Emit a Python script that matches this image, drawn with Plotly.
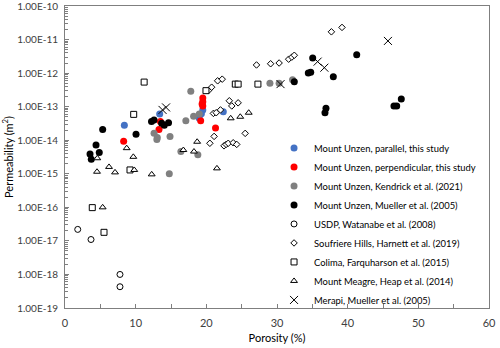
import plotly.graph_objects as go

# Mount Unzen, parallel, this study
par_phi = [8.4, 13.4, 19.0, 19.5, 19.3, 22.4]
par_k = [2.8e-14, 6.0e-14, 4.5e-14, 8.0e-14, 6.2e-14, 7.0e-14]

# Mount Unzen, perpendicular, this study
perp_phi = [8.3, 13.3, 13.5, 19.2, 19.5, 19.5, 19.5, 19.4, 21.3]
perp_k = [9.3e-15, 2.1e-14, 3.6e-14, 3.8e-14, 1.8e-13, 1.4e-13, 1.05e-13, 1.2e-13, 2.3e-14]

# Mount Unzen, Kendrick et al. (2021)
ken_phi = [12.6, 13.06, 13.0, 14.86, 14.76, 17.1, 16.4, 17.8, 18.2, 18.8, 19.0, 29.0, 30.3, 32.2]
ken_k = [1.6e-14, 1.2e-14, 1.05e-14, 1.3e-14, 1.0e-15, 3.8e-14, 4.6e-15, 2.9e-13, 5.2e-14,
         3.7e-15, 6.0e-14, 5.0e-13, 5.0e-13, 6.3e-13]

# Mount Unzen, Mueller et al. (2005)
mue_phi = [3.54, 3.72, 4.39, 4.85, 5.33, 10.05, 12.24, 12.6, 13.68, 14.05, 14.65,
           32.45, 34.43, 34.77, 35.05, 37.97, 41.28, 36.93, 36.79, 46.55, 46.94, 47.59]
mue_k = [3.9e-15, 2.7e-15, 7.2e-15, 4.3e-15, 2.1e-14, 1.5e-14, 3.6e-14, 4.0e-14, 3.2e-14, 2.8e-14, 3.3e-14,
         5.5e-13, 1.0e-12, 1.07e-12, 2.8e-12, 7.8e-13, 3.5e-12, 8.9e-14, 6.6e-14, 1.05e-13, 1.05e-13, 1.7e-13]

# USDP, Watanabe et al. (2008)
usdp_phi = [1.8, 3.68, 7.78, 7.78]
usdp_k = [2.2e-17, 1.1e-17, 1.0e-18, 4.3e-19]

# Soufriere Hills, Harnett et al. (2019)
sh_phi = [37.7, 39.2, 27.1, 29.1, 30.3, 31.65, 32.1, 32.45, 20.3, 20.75, 21.6, 22.25,
          23.25, 23.6, 24.5, 21.0, 21.4, 22.0, 25.5, 21.1, 20.5, 22.5, 22.8, 23.1, 23.8, 24.3]
sh_k = [1.7e-11, 2.3e-11, 1.75e-12, 1.9e-12, 2.0e-12, 2.6e-12, 3.0e-12, 3.4e-12, 3.0e-13, 3.8e-13, 5.9e-13, 6.6e-13,
        1.5e-13, 1.05e-13, 1.3e-13, 6.3e-14, 6.6e-14, 8.0e-14, 1.6e-14, 1.3e-14, 8.1e-15, 6.8e-15, 7.5e-15, 8.1e-15,
        8.4e-15, 7.5e-15]

# Colima, Farquharson et al. (2015)
col_phi = [11.2, 9.72, 9.2, 3.86, 5.52, 24.1, 24.5, 27.3, 19.95]
col_k = [5.4e-13, 5.9e-14, 1.3e-15, 9.8e-17, 1.8e-17, 4.7e-13, 4.7e-13, 4.7e-13, 3.0e-13]

# Mount Meagre, Heap et al. (2014)
mm_phi = [4.57, 8.73, 9.67, 4.53, 6.23, 7.08, 9.8, 12.27, 5.33, 16.75, 18.7, 18.25, 23.45, 24.8, 26.0, 21.5]
mm_k = [2.9e-15, 5.8e-15, 3.2e-15, 1.15e-15, 1.6e-15, 1.1e-15, 1.3e-15, 9.6e-16, 1.0e-16, 5.1e-15,
        9.0e-15, 4.6e-15, 4.5e-14, 5.0e-14, 6.6e-14, 1.45e-15]

# Merapi, Mueller et al. (2005)
mer_phi = [13.8, 14.3, 35.75, 36.7, 30.5, 45.7]
mer_k = [8.0e-14, 9.5e-14, 2.2e-12, 1.45e-12, 4.7e-13, 9.1e-12]

y_tickvals = [1e-19, 1e-18, 1e-17, 1e-16, 1e-15, 1e-14, 1e-13, 1e-12, 1e-11, 1e-10]
y_ticktext = ["1.00E-19", "1.00E-18", "1.00E-17", "1.00E-16", "1.00E-15",
              "1.00E-14", "1.00E-13", "1.00E-12", "1.00E-11", "1.00E-10"]
# log minor ticks (2..9 in each decade)
y_minor = [m * d for d in y_tickvals[:-1] for m in range(2, 10)]

FONT = "Lato, Liberation Sans, sans-serif"

fig = go.Figure()

def filled(x, y, name, color):
    fig.add_trace(go.Scatter(x=x, y=y, mode="markers", name=name,
                             marker=dict(symbol="circle", size=7, color=color,
                                         line=dict(width=0))))

def hollow(x, y, name, symbol, size):
    fig.add_trace(go.Scatter(x=x, y=y, mode="markers", name=name,
                             marker=dict(symbol=symbol, size=size, color="white",
                                         line=dict(width=1, color="black"))))

filled(par_phi, par_k, "Mount Unzen, parallel, this study", "#4472C4")
filled(perp_phi, perp_k, "Mount Unzen, perpendicular, this study", "#FF0000")
filled(ken_phi, ken_k, "Mount Unzen, Kendrick et al. (2021)", "#808080")
filled(mue_phi, mue_k, "Mount Unzen, Mueller et al. (2005)", "#000000")
hollow(usdp_phi, usdp_k, "USDP, Watanabe et al. (2008)", "circle", 6)
hollow(sh_phi, sh_k, "Soufriere Hills, Harnett et al. (2019)", "diamond", 5)
hollow(col_phi, col_k, "Colima, Farquharson et al. (2015)", "square", 6)
hollow(mm_phi, mm_k, "Mount Meagre, Heap et al. (2014)", "triangle-up", 6)
fig.add_trace(go.Scatter(x=mer_phi, y=mer_k, mode="markers", name="Merapi, Mueller et al. (2005)",
                         marker=dict(symbol="x-thin", size=8, color="black",
                                     line=dict(width=1, color="black"))))

fig.update_layout(
    width=500, height=348,
    margin=dict(l=65, r=11, t=6, b=40, autoexpand=False),
    paper_bgcolor="white", plot_bgcolor="white",
    font=dict(family=FONT, size=10, color="#404040"),
    showlegend=True,
    legend=dict(x=0.493, y=0.578, xanchor="left", yanchor="top",
                bgcolor="rgba(0,0,0,0)", font=dict(family=FONT, size=9.4, color="#000000"),
                tracegroupgap=0, itemwidth=30),
)
fig.update_xaxes(range=[0, 60], dtick=10, ticks="inside", ticklen=4,
                 showgrid=False, zeroline=False, automargin=False,
                 showline=True, linecolor="#7f7f7f", linewidth=1, mirror=True,
                 minor=dict(dtick=5, ticks="inside", ticklen=4, tickcolor="#7f7f7f"),
                 tickcolor="#7f7f7f", tickfont=dict(size=11), ticklabelstandoff=5,
                 title=dict(text="Porosity (%)", font=dict(size=11, color="#000000"), standoff=6))
fig.update_yaxes(type="log", range=[-19, -10], tickvals=y_tickvals, ticktext=y_ticktext,
                 ticks="inside", ticklen=4, tickcolor="#7f7f7f", ticklabeloverflow="allow",
                 showgrid=False, zeroline=False, ticklabelstandoff=4, automargin=False,
                 showline=True, linecolor="#7f7f7f", linewidth=1, mirror=True,
                 minor=dict(tickvals=y_minor, ticks="inside", ticklen=3,
                            tickcolor="#7f7f7f", showgrid=False),
                 title=dict(text="Permeability (m<sup>2</sup>)", font=dict(size=11, color="#000000"), standoff=4))

# drop the browser's default page margin so the figure sits at the window's corner
fig.write_html("out.html", config={"displayModeBar": False},
               post_script="document.body.style.margin='0px';")
